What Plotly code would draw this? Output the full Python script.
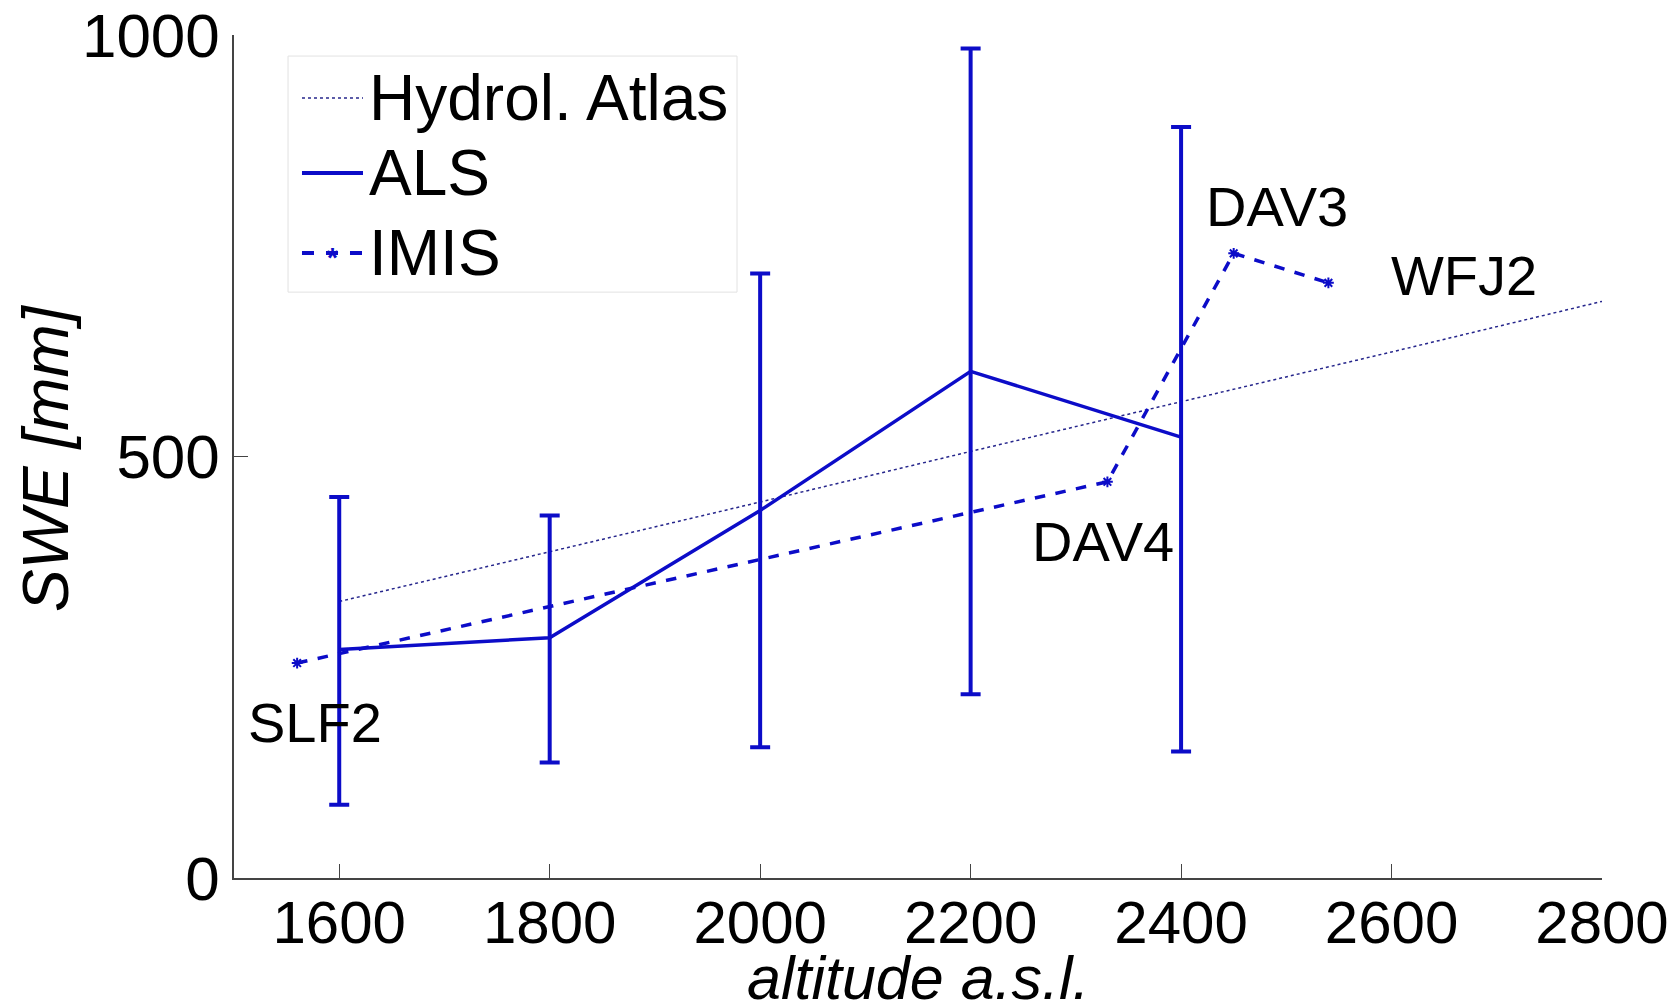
import plotly.graph_objects as go

# Altitude bands (m a.s.l.) used for the ALS snow water equivalent profile
als_altitude = [1600, 1800, 2000, 2200, 2400]
als_swe = [271, 285, 436, 601, 523]
als_err_plus = [181, 145, 281, 383, 368]
als_err_minus = [184, 148, 281, 383, 373]

# Hydrological Atlas reference gradient
atlas_altitude = [1600, 1800, 2000, 2200, 2400, 2600, 2800]
atlas_swe = [328, 387, 446, 506, 565, 624, 684]

# IMIS station measurements
imis_altitude = [1560, 2330, 2450, 2540]
imis_swe = [255, 470, 741, 706]
imis_station = ["SLF2", "DAV4", "DAV3", "WFJ2"]
# label anchor points for the station names
label_altitude = [1577, 2326, 2491, 2669]
label_swe = [185, 399, 797, 715]

x_ticks = [1600, 1800, 2000, 2200, 2400, 2600, 2800]
y_ticks = [0, 500, 1000]

legend_names = ["Hydrol. Atlas", "ALS", "IMIS"]
x_title = "<i>altitude a.s.l.</i>"
y_title = "<i>SWE [mm]</i>"

BLUE = "#0c0cc8"
DOT = "#26268c"
FONT = "Liberation Sans, Arial, sans-serif"

fig = go.Figure()

fig.add_trace(go.Scatter(
    x=atlas_altitude, y=atlas_swe, mode="lines", name=legend_names[0],
    line=dict(color=DOT, width=1.5, dash="dot"), showlegend=False,
))

fig.add_trace(go.Scatter(
    x=als_altitude, y=als_swe, mode="lines", name=legend_names[1],
    line=dict(color=BLUE, width=3.5), showlegend=False,
    error_y=dict(type="data", array=als_err_plus, arrayminus=als_err_minus,
                 color=BLUE, thickness=4, width=10),
))

fig.add_trace(go.Scatter(
    x=imis_altitude, y=imis_swe, mode="lines+markers", name=legend_names[2],
    line=dict(color=BLUE, width=3.5, dash="dash"), showlegend=False,
    marker=dict(symbol="asterisk-open", size=9, color=BLUE,
                line=dict(color=BLUE, width=2)),
))

for xa, ya, txt in zip(label_altitude, label_swe, imis_station):
    fig.add_annotation(x=xa, y=ya, text=txt, showarrow=False,
                       font=dict(family=FONT, size=56, color="black"),
                       xanchor="center", yanchor="middle")

# Legend box drawn in paper coordinates (long line samples, MATLAB style)
box = dict(x0=0.0395, x1=0.3677, y0=0.695, y1=0.975)
row_y = [0.9253, 0.8363, 0.7414]
sample_x0, sample_x1, text_x = 0.0497, 0.0943, 0.097
sample_styles = [
    dict(color=DOT, width=1.5, dash="dot"),
    dict(color=BLUE, width=4, dash="solid"),
    dict(color=BLUE, width=4, dash="dash"),
]
fig.add_shape(type="rect", xref="paper", yref="paper", **box,
              line=dict(color="#e2e2e2", width=1), fillcolor="white", layer="above")
for yy, name, style in zip(row_y, legend_names, sample_styles):
    fig.add_shape(type="line", xref="paper", yref="paper",
                  x0=sample_x0, x1=sample_x1, y0=yy, y1=yy, line=style, layer="above")
    fig.add_annotation(x=text_x, y=yy, xref="paper", yref="paper", text=name,
                       showarrow=False, xanchor="left", yanchor="middle",
                       font=dict(family=FONT, size=64, color="black"))
fig.add_annotation(x=(sample_x0 + sample_x1) / 2, y=row_y[2], xref="paper", yref="paper",
                   text="<b>*</b>", showarrow=False, xanchor="center", yanchor="middle",
                   yshift=-5, font=dict(family=FONT, size=28, color=BLUE))

# Axis titles placed as annotations for exact positioning
fig.add_annotation(x=0.5, y=-0.119, xref="paper", yref="paper", text=x_title,
                   showarrow=False, xanchor="center", yanchor="middle",
                   font=dict(family=FONT, size=61, color="black"))
fig.add_annotation(x=-0.1374, y=0.497, xref="paper", yref="paper", text=y_title,
                   showarrow=False, xanchor="center", yanchor="middle", textangle=-90,
                   font=dict(family=FONT, size=64, color="black"))

fig.update_layout(
    width=1675, height=1007,
    paper_bgcolor="white", plot_bgcolor="white",
    margin=dict(l=234, r=73, t=35, b=129),
    font=dict(family=FONT, size=62, color="black"),
    showlegend=False,
)

fig.update_xaxes(
    range=[1500, 2800], tickvals=x_ticks, ticktext=[str(v) for v in x_ticks],
    showline=True, linecolor="#444444", linewidth=1.5, mirror=False,
    ticks="inside", ticklen=14, tickcolor="#444444", tickwidth=1,
    showgrid=False, zeroline=False, automargin=False,
    tickfont=dict(family=FONT, size=60), ticklabelstandoff=-9,
)

fig.update_yaxes(
    range=[0, 1000], tickvals=y_ticks, ticktext=[str(v) for v in y_ticks],
    showline=True, linecolor="#444444", linewidth=1.5, mirror=False,
    ticks="inside", ticklen=14, tickcolor="#444444", tickwidth=1,
    showgrid=False, zeroline=False, automargin=False,
    tickfont=dict(family=FONT, size=62),
)

fig.write_html("out.html")
